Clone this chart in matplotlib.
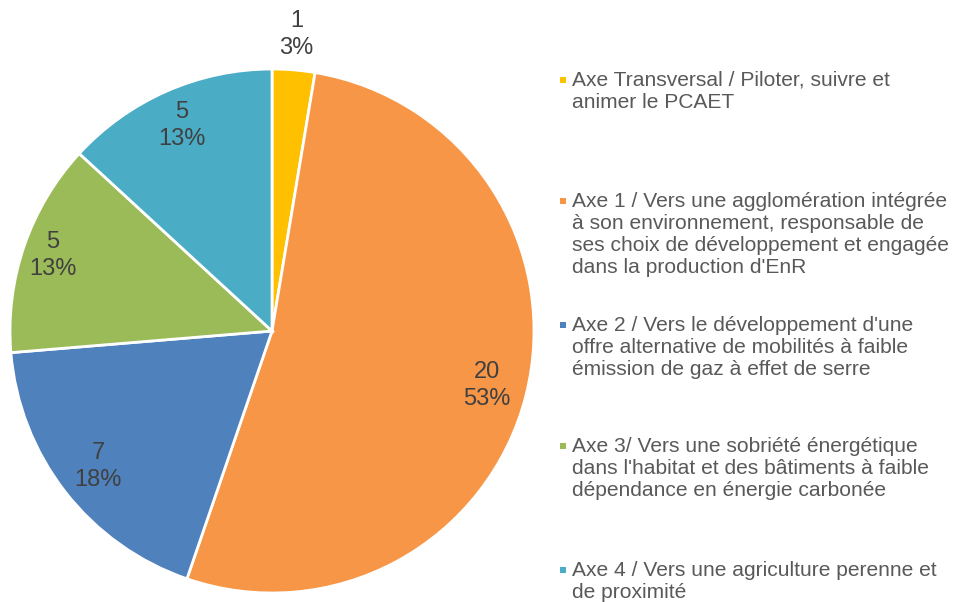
import matplotlib.pyplot as plt
import numpy as np
from matplotlib.patches import Rectangle

plt.rcParams["font.family"] = ["Liberation Sans", "DejaVu Sans"]

# --------------------------------------------------
# Data
# --------------------------------------------------

labels = [
    "Axe Transversal / Piloter, suivre et\nanimer le PCAET",
    "Axe 1 / Vers une agglomération intégrée\nà son environnement, responsable de\n"
    "ses choix de développement et engagée\ndans la production d'EnR",
    "Axe 2 / Vers le développement d'une\noffre alternative de mobilités à faible\n"
    "émission de gaz à effet de serre",
    "Axe 3/ Vers une sobriété énergétique\ndans l'habitat et des bâtiments à faible\n"
    "dépendance en énergie carbonée",
    "Axe 4 / Vers une agriculture perenne et\nde proximité",
]
values = [1, 20, 7, 5, 5]
colors = ["#FFC000", "#F79646", "#4F81BD", "#9BBB59", "#4BACC6"]

# label distance from centre (fraction of radius), per slice
label_dist = [1.135, 0.845, 0.84, 0.885, 0.858]

# legend layout (figure pixels from top, first line centre)
legend_y = [80, 201, 325, 446, 570]

W, H = 955, 602

fig = plt.figure(figsize=(W / 100, H / 100), dpi=100)

# --------------------------------------------------
# Pie
# --------------------------------------------------

cx, cy, r = 272, 331, 262
ax = fig.add_axes([(cx - r) / W, (H - cy - r) / H, 2 * r / W, 2 * r / H])

wedges, _ = ax.pie(
    values,
    colors=colors,
    startangle=90,
    counterclock=False,
    radius=1,
    wedgeprops=dict(edgecolor="white", linewidth=2),
)
ax.set_xlim(-1, 1)
ax.set_ylim(-1, 1)
ax.set_aspect("equal")
ax.axis("off")

total = sum(values)
for w, v, d in zip(wedges, values, label_dist):
    ang = np.deg2rad((w.theta1 + w.theta2) / 2)
    ax.text(
        d * np.cos(ang),
        d * np.sin(ang),
        f"{v}\n{round(100 * v / total)}%",
        ha="center",
        va="center",
        fontsize=17,
        color="#404040",
        linespacing=1.3,
        clip_on=False,
    )

# --------------------------------------------------
# Legend
# --------------------------------------------------

for text, col, y in zip(labels, colors, legend_y):
    fig.patches.append(
        Rectangle(
            (560 / W, (H - y - 3) / H),
            6 / W,
            6 / H,
            transform=fig.transFigure,
            facecolor=col,
            edgecolor="none",
        )
    )
    fig.text(
        572 / W,
        (H - y + 9) / H,
        text,
        ha="left",
        va="top",
        fontsize=15.1,
        color="#595959",
        linespacing=1.2,
        transform=fig.transFigure,
    )

fig.savefig("out.png", dpi=100)
